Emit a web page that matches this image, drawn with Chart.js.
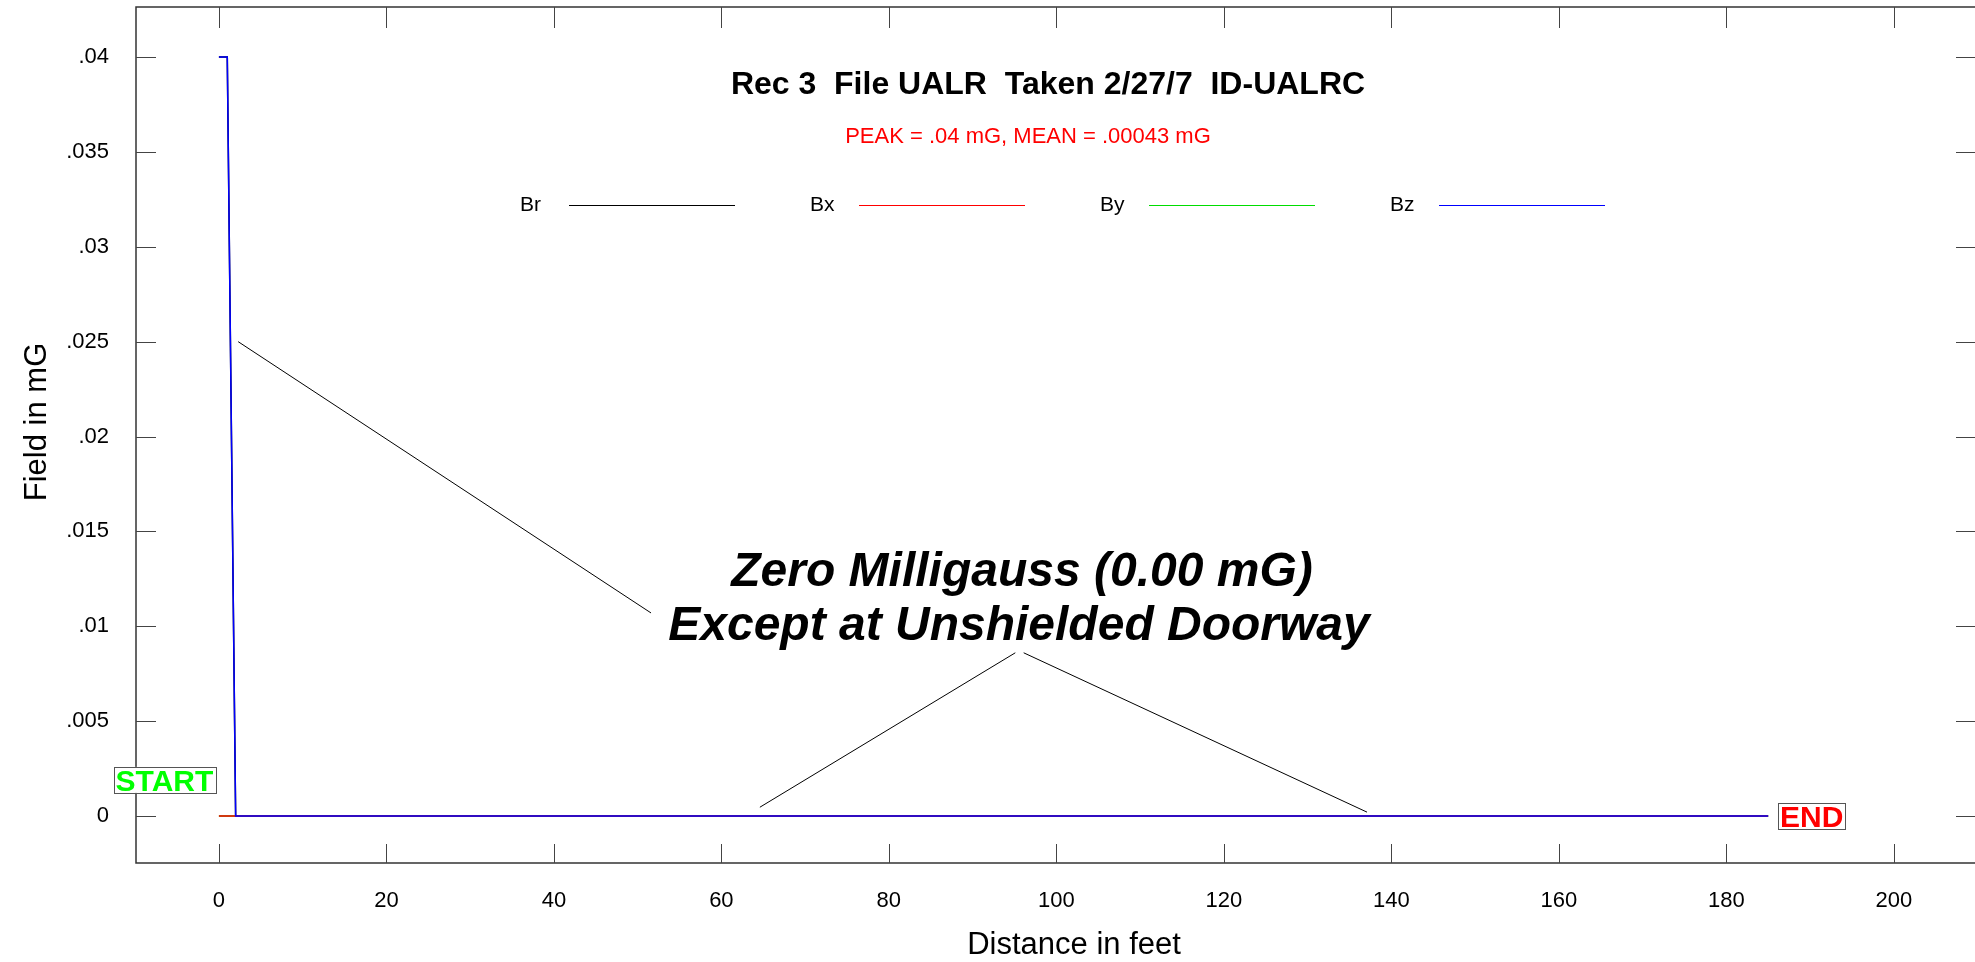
<!DOCTYPE html>
<html>
<head>
<meta charset="utf-8">
<title>Rec 3 File UALR</title>
<script src="https://cdn.jsdelivr.net/npm/chart.js@4.4.1/dist/chart.umd.min.js"></script>
<style>
  html, body { margin: 0; padding: 0; background: #fff; }
  #chart { display: block; }
</style>
</head>
<body>
<canvas id="chart" width="1975" height="962"></canvas>
<script>
// readings along the walk (feet / mG)
const distance = [0, 1, 2, 185];
const brData = [0.04, 0.04, 0, 0];
const bxData = [0, 0, 0, 0];
const byData = [0, 0, 0, 0];
const bzData = [0.04, 0.04, 0, 0];

const seriesNames = ["Br", "Bx", "By", "Bz"];
const seriesColors = ["#000000", "#ff0000", "#00dd00", "#0000ff"];

// axis ticks
const xTicks = [0, 20, 40, 60, 80, 100, 120, 140, 160, 180, 200];
const yTicks = [0, 0.005, 0.01, 0.015, 0.02, 0.025, 0.03, 0.035, 0.04];

// pointer lines of the note (feet, mG)
const pointerA = [[2.3, 0.025], [51.6, 0.0107]];
const pointerB = [[64.6, 0.00046], [95.1, 0.0086]];
const pointerC = [[96.1, 0.0086], [137.1, 0.0002]];

// start / end markers (feet, mG)
const startMark = { x: -6.5, y: 0.0019, text: "START", color: "#00ff00" };
const endMark = { x: 190.2, y: 0, text: "END", color: "#ff0000" };

// texts
const titleText = "Rec 3  File UALR  Taken 2/27/7  ID-UALRC";
const peakText = "PEAK = .04 mG, MEAN = .00043 mG";
const noteLines = ["Zero Milligauss (0.00 mG)", "Except at Unshielded Doorway"];
const xTitle = "Distance in feet";
const yTitle = "Field in mG";

const FONT = '"Liberation Sans", Arial, sans-serif';

const toPoints = ys => distance.map((d, i) => ({ x: d, y: ys[i] }));
const pairPoints = p => p.map(q => ({ x: q[0], y: q[1] }));

const seriesData = [brData, bxData, byData, bzData];
// blue on top, then red, green, black underneath
const seriesOrder = [3, 1, 2, 0];

const datasets = seriesNames.map((name, i) => ({
    label: name,
    data: toPoints(seriesData[i]),
    borderColor: seriesColors[i],
    borderWidth: 1.5,
    pointRadius: 0,
    tension: 0,
    fill: false,
    order: seriesOrder[i]
}));

[pointerA, pointerB, pointerC].forEach(p => {
    datasets.push({
        label: "",
        data: pairPoints(p),
        borderColor: "#000000",
        borderWidth: 1,
        pointRadius: 0,
        fill: false,
        order: 5
    });
});

// frame, inner ticks, legend, texts and markers
const decorations = {
    id: "decorations",
    afterDraw(chart) {
        const ctx = chart.ctx;
        const a = chart.chartArea;
        const xs = chart.scales.x;
        const ys = chart.scales.y;

        ctx.save();

        // frame (right side runs off the page)
        ctx.strokeStyle = "#333";
        ctx.lineWidth = 1.5;
        ctx.beginPath();
        ctx.moveTo(a.right, a.top);
        ctx.lineTo(a.left, a.top);
        ctx.lineTo(a.left, a.bottom);
        ctx.lineTo(a.right, a.bottom);
        ctx.stroke();

        // inner tick marks
        ctx.strokeStyle = "#444";
        ctx.lineWidth = 1;
        ctx.beginPath();
        xs.ticks.forEach(t => {
            const px = Math.round(xs.getPixelForValue(t.value)) + 0.5;
            ctx.moveTo(px, a.top);
            ctx.lineTo(px, a.top + 21);
            ctx.moveTo(px, a.bottom);
            ctx.lineTo(px, a.bottom - 19);
        });
        ys.ticks.forEach(t => {
            const py = Math.round(ys.getPixelForValue(t.value)) + 0.5;
            ctx.moveTo(a.left, py);
            ctx.lineTo(a.left + 20, py);
            ctx.moveTo(a.right, py);
            ctx.lineTo(a.right - 19, py);
        });
        ctx.stroke();

        // title and peak line
        ctx.fillStyle = "#000";
        ctx.textAlign = "center";
        ctx.textBaseline = "alphabetic";
        ctx.font = "bold 32px " + FONT;
        ctx.fillText(titleText, 1048, 94);
        ctx.fillStyle = "#ff0000";
        ctx.font = "22px " + FONT;
        ctx.fillText(peakText, 1028, 143);

        // legend: name, then a line sample
        ctx.font = "21px " + FONT;
        ctx.textAlign = "left";
        ctx.textBaseline = "middle";
        seriesNames.forEach((name, i) => {
            const x0 = 520 + i * 290;
            ctx.fillStyle = "#000";
            ctx.fillText(name, x0, 205);
            ctx.strokeStyle = seriesColors[i];
            ctx.lineWidth = 1;
            ctx.beginPath();
            ctx.moveTo(x0 + 49, 205.5);
            ctx.lineTo(x0 + 49 + 166, 205.5);
            ctx.stroke();
        });

        // note
        ctx.fillStyle = "#000";
        ctx.textAlign = "center";
        ctx.textBaseline = "alphabetic";
        ctx.font = "italic bold 48px " + FONT;
        ctx.fillText(noteLines[0], 1022, 586);
        ctx.fillText(noteLines[1], 1019, 640);

        // axis titles
        ctx.font = "31px " + FONT;
        ctx.textBaseline = "middle";
        ctx.fillText(xTitle, 1074, 945);
        ctx.save();
        ctx.translate(37, 422);
        ctx.rotate(-Math.PI / 2);
        ctx.fillText(yTitle, 0, 0);
        ctx.restore();

        // start / end boxes
        ctx.font = "bold 30px " + FONT;
        [startMark, endMark].forEach(m => {
            const cx = xs.getPixelForValue(m.x);
            const cy = ys.getPixelForValue(m.y);
            const w = ctx.measureText(m.text).width + 4;
            const h = 26;
            ctx.fillStyle = "#fff";
            ctx.fillRect(cx - w / 2, cy - h / 2, w, h);
            ctx.strokeStyle = "#555";
            ctx.lineWidth = 1;
            ctx.strokeRect(Math.round(cx - w / 2) + 0.5, Math.round(cy - h / 2) + 0.5, Math.round(w), h);
            ctx.fillStyle = m.color;
            ctx.textAlign = "center";
            ctx.textBaseline = "alphabetic";
            ctx.fillText(m.text, cx, cy + 11.5);
        });

        ctx.restore();
    }
};

const chart = new Chart(document.getElementById("chart"), {
    type: "line",
    data: { datasets: datasets },
    plugins: [decorations],
    options: {
        responsive: false,
        animation: false,
        devicePixelRatio: 1,
        layout: { padding: { top: 7, right: 0, left: 0, bottom: 0 } },
        plugins: {
            legend: { display: false },
            tooltip: { enabled: false }
        },
        scales: {
            x: {
                type: "linear",
                min: -9.9,
                max: 209.7,
                grid: { display: false, drawTicks: false },
                border: { display: false },
                afterBuildTicks: scale => {
                    scale.ticks = xTicks.map(v => ({ value: v }));
                },
                afterFit: scale => {
                    scale.height = 99;
                    scale.paddingLeft = 0;
                    scale.paddingRight = 0;
                },
                ticks: {
                    padding: 25,
                    color: "#000",
                    maxRotation: 0,
                    font: { family: FONT, size: 22 },
                    callback: value => String(value)
                }
            },
            y: {
                type: "linear",
                min: -0.00248,
                max: 0.04264,
                grid: { display: false, drawTicks: false },
                border: { display: false },
                afterBuildTicks: scale => {
                    scale.ticks = yTicks.map(v => ({ value: v }));
                },
                afterFit: scale => {
                    scale.width = 136;
                    scale.paddingTop = 0;
                    scale.paddingBottom = 0;
                },
                ticks: {
                    padding: 27,
                    color: "#000",
                    font: { family: FONT, size: 22 },
                    callback: value => value === 0 ? "0" : String(+value.toFixed(3)).replace(/^0/, "")
                }
            }
        }
    }
});
</script>
</body>
</html>
